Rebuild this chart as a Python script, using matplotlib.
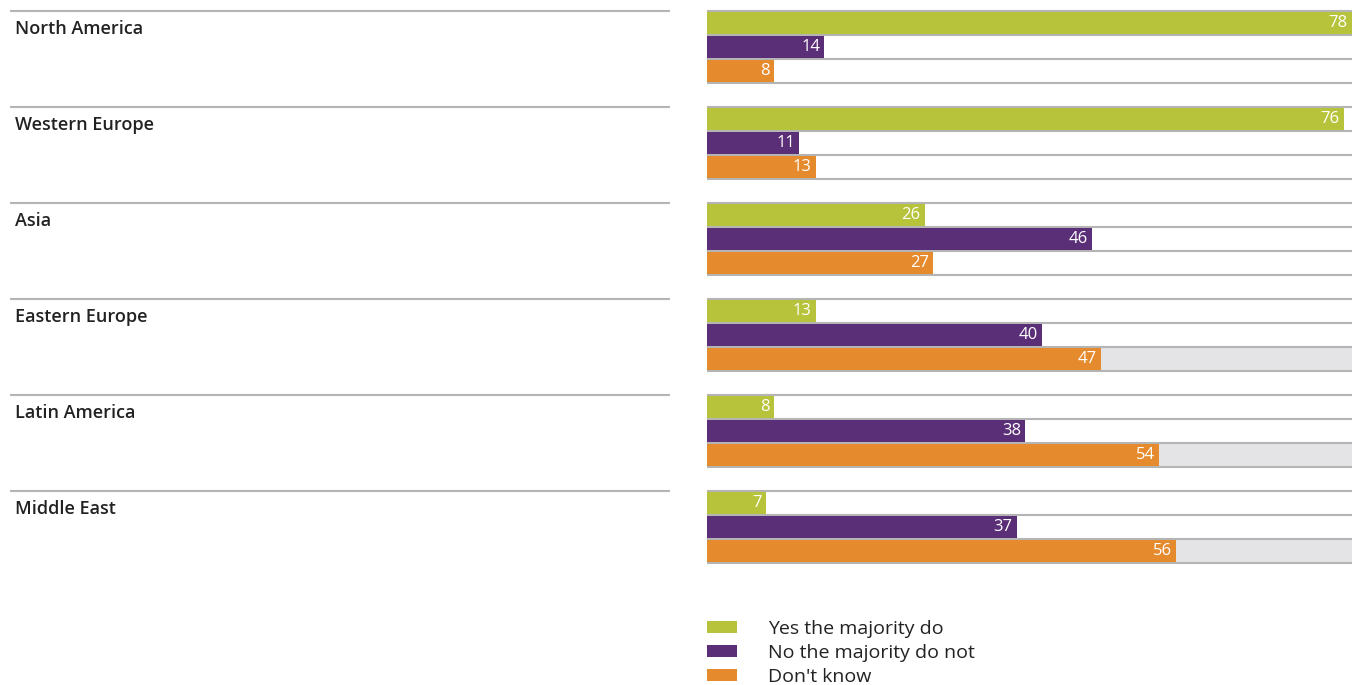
import numpy as np
import matplotlib.pyplot as plt
from matplotlib.patches import Patch

# data
regions = ['North America', 'Western Europe', 'Asia', 'Eastern Europe',
           'Latin America', 'Middle East']
yes_majority = [78, 76, 26, 13, 8, 7]
no_majority = [14, 11, 46, 40, 38, 37]
dont_know = [8, 13, 27, 47, 54, 56]
series_names = ['Yes the majority do', 'No the majority do not', "Don't know"]
shaded_regions = ['Eastern Europe', 'Latin America', 'Middle East']

colors = ['#b7c33a', '#5b2f78', '#e68a2e']
line_col = '#b4b4b4'
W, H = 1352, 685

fig = plt.figure(figsize=(W / 100, H / 100), dpi=100)
fig.patch.set_facecolor('white')

# y unit = one bar row (24 px), group top line at 4*g
ylim = ((H - 11) / 24, -11 / 24)

# left side: region names with rules
axl = fig.add_axes([10 / W, 0, 660 / W, 1])
axl.set_xlim(0, 1)
axl.set_ylim(*ylim)
axl.axis('off')
for g, name in enumerate(regions):
    axl.axhline(g * 4, color=line_col, lw=1.5)
    axl.text(0.008, g * 4 + 0.75, name, fontsize=13, fontweight='semibold',
             family='Open Sans', color='#222222', va='center', ha='left')

# right side: bars (the 78 bar runs off the right edge)
ax = fig.add_axes([707 / W, 0, (W - 707) / W, 1])
xmax = 77
ax.set_xlim(0, xmax)
ax.set_ylim(*ylim)
ax.axis('off')

series = [yes_majority, no_majority, dont_know]
for g, name in enumerate(regions):
    for k in range(4):
        ax.axhline(g * 4 + k, color=line_col, lw=1.5, zorder=1)
    if name in shaded_regions:
        ax.barh(g * 4 + 2.5, xmax, height=1.0, color='#e4e4e6', zorder=0)
    for s, vals in enumerate(series):
        y = g * 4 + s + 0.5
        v = vals[g]
        ax.barh(y, v, height=0.95, color=colors[s], zorder=2)
        ax.text(min(v, xmax) - 0.5, y, str(v), color='white', fontsize=12,
                family='Open Sans', ha='right', va='center', zorder=3)

handles = [Patch(facecolor=c, edgecolor='none') for c in colors]
leg = ax.legend(handles, series_names, loc='upper left',
                bbox_to_anchor=(0, 1 - 620 / H), frameon=False,
                prop={'family': 'Open Sans', 'size': 14},
                handlelength=1.55, handleheight=0.62, handletextpad=1.6,
                labelspacing=0.3, borderaxespad=0, borderpad=0)
for t in leg.get_texts():
    t.set_color('#222222')

fig.savefig('out.png', dpi=100, facecolor='white')
